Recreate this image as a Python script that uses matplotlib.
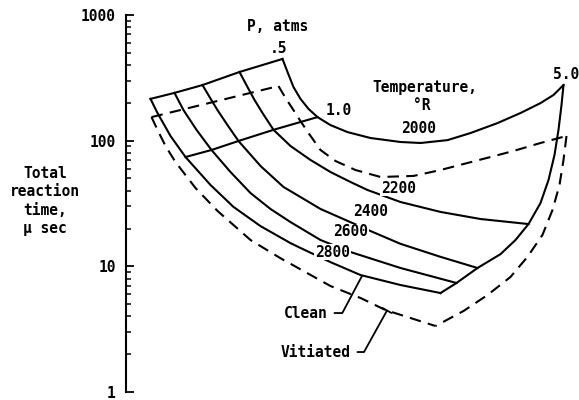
import numpy as np
import matplotlib.pyplot as plt
from matplotlib.ticker import LogLocator, NullFormatter

# carpet plot: abscissa is an arbitrary carpet offset (no scale shown),
# ordinate is total reaction time in microseconds
temps = [2000, 2200, 2400, 2600, 2800]

# clean air, constant temperature curves (P from .5 to 5.0 atm)
clean_2000_x = [157, 162, 168, 175, 183, 192, 205, 222, 245, 275, 295, 322, 345,
                372, 395, 415, 428, 438]
clean_2000_t = [447, 352, 267, 215, 179, 154, 133, 117, 105, 97.6, 95.8, 101, 115,
                138, 166, 199, 231, 277]
clean_2200_x = [114, 122, 129, 137, 148, 165, 185, 205, 225, 242, 275, 315, 355, 403]
clean_2200_t = [352, 267, 211, 166, 122, 90.7, 70.2, 56.3, 46.9, 40.5, 32.5, 27.1,
                23.8, 21.7]
clean_2400_x = [77, 84, 92, 102, 113, 135, 158, 175, 195, 227, 245, 275, 315, 352]
clean_2400_t = [277, 223, 175, 133, 99.4, 62.9, 42.8, 35.6, 28.6, 22.1, 19.1, 15.1,
                11.9, 9.70]
clean_2600_x = [49, 58, 71, 86, 105, 125, 145, 165, 195, 225, 275, 331]
clean_2600_t = [240, 175, 122, 84.3, 56.3, 38.3, 28.6, 22.5, 16.2, 13.0, 9.70, 7.37]
clean_2800_x = [25, 32, 45, 60, 85, 108, 135, 165, 175, 205, 235, 275, 315]
clean_2800_t = [215, 166, 109, 74.1, 44.4, 29.7, 20.9, 15.3, 14.0, 10.8, 8.53, 7.10,
                6.13]

# clean air, constant pressure lines
p05_x = [25, 49, 77, 114, 157]
p05_t = [215, 240, 277, 352, 447]
p10_x = [60, 86, 113, 148, 192]
p10_t = [74.1, 84.3, 99.4, 122, 154]
p50_x = [438, 436, 433, 429, 423, 415, 403, 390, 375, 352, 331, 315]
p50_t = [277, 192, 122, 76.9, 48.6, 31.9, 21.7, 16.2, 12.5, 9.70, 7.37, 6.13]

# vitiated air, outline of the carpet
vit_p05_x = [26, 153]
vit_p05_t = [154, 272]
vit_2000_x = [153, 157, 162, 168, 175, 183, 195, 210, 230, 255, 288, 315, 338, 365,
              388, 415, 441]
vit_2000_t = [272, 240, 207, 175, 143, 115, 84.3, 68.9, 58.4, 51.4, 52.4, 58.4, 65.2,
              74.1, 82.8, 95.8, 109]
vit_p50_x = [441, 438, 434, 427, 417, 402, 385, 362, 338, 310]
vit_p50_t = [109, 70.2, 44.4, 28.1, 17.8, 11.9, 8.23, 5.91, 4.41, 3.35]
vit_2800_x = [26, 32, 40, 50, 70, 92, 125, 155, 205, 235, 260, 285, 310]
vit_2800_t = [154, 122, 90.7, 67.6, 42.0, 27.6, 16.2, 11.6, 6.97, 5.60, 4.49, 3.88, 3.35]

plt.rcParams['font.family'] = ['DejaVu Sans Mono', 'DejaVu Sans']
plt.rcParams['font.weight'] = 'bold'
fs = 10.5

fig = plt.figure(figsize=(5.79, 4.0), dpi=100)
ax = fig.add_axes([125.5 / 579, 8 / 400, 1 - 125.5 / 579, 377 / 400])
ax.set_yscale('log')
ax.set_ylim(1, 1000)
ax.set_xlim(0, 453.5)

lw = 1.5
dash = (0, (5.5, 3.5))
for xs, ts in [(clean_2000_x, clean_2000_t), (clean_2200_x, clean_2200_t),
               (clean_2400_x, clean_2400_t), (clean_2600_x, clean_2600_t),
               (clean_2800_x, clean_2800_t), (p05_x, p05_t), (p10_x, p10_t),
               (p50_x, p50_t)]:
    ax.plot(xs, ts, color='black', lw=lw, solid_joinstyle='round')
for xs, ts in [(vit_p05_x, vit_p05_t), (vit_2000_x, vit_2000_t),
               (vit_p50_x, vit_p50_t), (vit_2800_x, vit_2800_t)]:
    ax.plot(xs, ts, color='black', lw=lw, linestyle=dash)

# labels
ax.text(152, 803, 'P, atms', ha='center', va='center', fontsize=fs)
ax.text(153, 546, '.5', ha='center', va='center', fontsize=fs)
ax.text(213, 175, '1.0', ha='center', va='center', fontsize=fs)
ax.text(441, 339, '5.0', ha='center', va='center', fontsize=fs)
ax.text(299, 263, 'Temperature,', ha='center', va='center', fontsize=fs)
ax.text(296, 192, '°R', ha='center', va='center', fontsize=fs)
ax.text(293, 126, '2000', ha='center', va='center', fontsize=fs)
box = dict(fc='white', ec='none', pad=0.6)
ax.text(273, 42.0, '2200', ha='center', va='center', fontsize=fs, bbox=box)
ax.text(245, 27.1, '2400', ha='center', va='center', fontsize=fs, bbox=box)
ax.text(225, 18.8, '2600', ha='center', va='center', fontsize=fs, bbox=box)
ax.text(207, 13.0, '2800', ha='center', va='center', fontsize=fs, bbox=box)

ax.annotate('Clean', xy=(236.5, 8.38), xytext=(202, 4.25), ha='right', va='center',
            fontsize=fs,
            arrowprops=dict(arrowstyle='-', lw=1.3, shrinkA=3, shrinkB=0,
                            connectionstyle='angle,angleA=0,angleB=62,rad=0'))
ax.annotate('Vitiated', xy=(261.5, 4.45), xytext=(225, 2.08), ha='right', va='center',
            fontsize=fs,
            arrowprops=dict(arrowstyle='-[, widthB=0.35, lengthB=0', lw=1.3,
                            shrinkA=3, shrinkB=0,
                            connectionstyle='angle,angleA=0,angleB=61,rad=0'))

# axis styling
ax.set_yticks([1, 10, 100, 1000])
ax.set_yticklabels(['1', '10', '100', '1000'])
ax.yaxis.set_minor_locator(LogLocator(base=10, subs=range(2, 10)))
ax.yaxis.set_minor_formatter(NullFormatter())
ax.tick_params(axis='y', which='major', direction='in', length=6, width=1.3,
               pad=7, labelsize=fs)
ax.tick_params(axis='y', which='minor', direction='in', length=3.5, width=1.1)
ax.xaxis.set_visible(False)
for s in ['top', 'right', 'bottom']:
    ax.spines[s].set_visible(False)
ax.spines['left'].set_linewidth(1.5)
ax.patch.set_alpha(0)

fig.text(45 / 579, 1 - 201 / 400, 'Total\nreaction\ntime,\nμ sec', ha='center',
         va='center', fontsize=fs, linespacing=1.3)

fig.savefig('out.png', dpi=100)
